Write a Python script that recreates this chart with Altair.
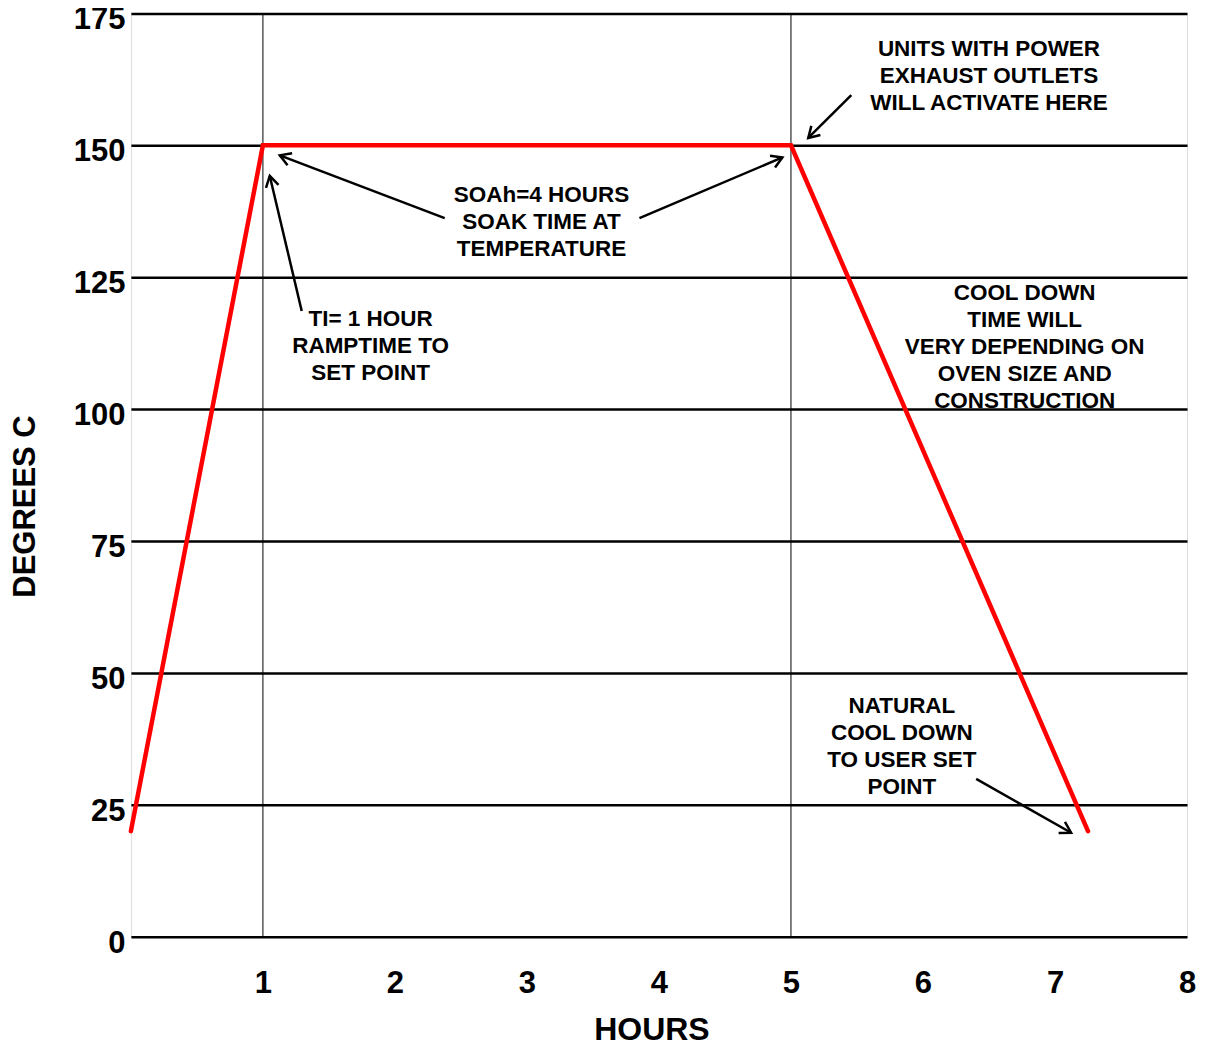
import math
import altair as alt
import pandas as pd

# ---- data ----
hours = [0, 1, 5, 7.25]
temps = [20, 150, 150, 20]

x_ticks = [1, 2, 3, 4, 5, 6, 7, 8]
y_ticks = [0, 25, 50, 75, 100, 125, 150, 175]
marker_hours = [1, 5]

note_texts = [
    "UNITS WITH POWER\nEXHAUST OUTLETS\nWILL ACTIVATE HERE",
    "SOAh=4 HOURS\nSOAK TIME AT\nTEMPERATURE",
    "TI= 1 HOUR\nRAMPTIME TO\nSET POINT",
    "COOL DOWN\nTIME WILL\nVERY DEPENDING ON\nOVEN SIZE AND\nCONSTRUCTION",
    "NATURAL\nCOOL DOWN\nTO USER SET\nPOINT",
]
# position of the first line of each note
note_x = [6.50, 3.11, 1.816, 6.77, 5.84]
note_y = [168.2, 140.6, 117.1, 122.0, 43.7]

arrow_tail_x = [1.294, 2.377, 3.852, 5.457, 6.403]
arrow_tail_y = [118.6, 136.2, 136.2, 159.5, 29.9]
arrow_tip_x = [1.052, 1.128, 4.935, 5.131, 7.122]
arrow_tip_y = [144.2, 148.1, 147.7, 151.4, 19.7]

W, H = 1057, 924
X_MAX, Y_MAX = 8, 175
FONT = "Liberation Sans"

profile = pd.DataFrame({"hours": hours, "temp": temps})
markers = pd.DataFrame({"hours": marker_hours})
notes = pd.DataFrame({"text": note_texts, "x": note_x, "y": note_y})

angles = []
for tx, ty, hx, hy in zip(arrow_tail_x, arrow_tail_y, arrow_tip_x, arrow_tip_y):
    dx = (hx - tx) * W / X_MAX
    dy = -(hy - ty) * H / Y_MAX
    angles.append(math.degrees(math.atan2(dy, dx)) % 360)
arrows = pd.DataFrame({
    "tx": arrow_tail_x, "ty": arrow_tail_y,
    "hx": arrow_tip_x, "hy": arrow_tip_y, "angle": angles,
})

xscale = alt.Scale(domain=[0, X_MAX], nice=False, zero=False)
yscale = alt.Scale(domain=[0, Y_MAX], nice=False)

x_axis = alt.Axis(
    values=x_ticks, format="d", grid=False, domain=False, ticks=False, tickSize=0,
    labelFont=FONT, labelFontSize=31, labelFontWeight="bold", labelColor="black",
    labelPadding=47, labelBaseline="middle", labelFlush=False, labelOverlap=False,
    title="HOURS", titleFont=FONT, titleFontSize=32, titleFontWeight="bold",
    titleColor="black", titleX=521, titleY=93, titleBaseline="middle",
)
y_axis = alt.Axis(
    values=y_ticks, format="d", grid=True, gridColor="black", gridWidth=2.5,
    gridOpacity=1, domain=False, ticks=False, tickSize=0,
    labelFont=FONT, labelFontSize=31, labelFontWeight="bold", labelColor="black",
    labelPadding=6, labelOffset=6.5, labelOverlap=False, labelFlush=False,
    title="DEGREES C", titleFont=FONT, titleFontSize=31, titleFontWeight="bold",
    titleColor="black", titleX=-105, titleY=493, titleBaseline="middle",
)

line = alt.Chart(profile).mark_line(
    color="#ff0000", strokeWidth=4.5, strokeCap="round", strokeJoin="miter"
).encode(
    x=alt.X("hours:Q", scale=xscale, axis=x_axis),
    y=alt.Y("temp:Q", scale=yscale, axis=y_axis),
)

vlines = alt.Chart(markers).mark_rule(color="black", strokeWidth=1).encode(
    x=alt.X("hours:Q", scale=xscale),
)

shafts = alt.Chart(arrows).mark_rule(color="black", strokeWidth=2.5).encode(
    x=alt.X("tx:Q", scale=xscale), y=alt.Y("ty:Q", scale=yscale),
    x2="hx:Q", y2="hy:Q",
)

heads = alt.Chart(arrows).mark_point(
    shape="M-1,-0.6L0,0L-1,0.6", filled=False, stroke="black",
    strokeWidth=2.5, size=460, opacity=1,
).encode(
    x=alt.X("hx:Q", scale=xscale), y=alt.Y("hy:Q", scale=yscale),
    angle=alt.Angle("angle:Q", scale=None),
)

texts = alt.Chart(notes).mark_text(
    font=FONT, fontSize=22.5, fontWeight="bold", color="black",
    align="center", baseline="middle", lineBreak="\n", lineHeight=27,
).encode(
    x=alt.X("x:Q", scale=xscale), y=alt.Y("y:Q", scale=yscale), text="text:N",
)

chart = alt.layer(vlines, line, shafts, heads, texts).properties(
    width=W, height=H,
    autosize=alt.AutoSizeParams(type="none"),
    padding={"left": 123, "top": 5, "right": 10, "bottom": 110},
).configure_view(stroke="black", strokeWidth=3).configure(background="white")

chart.save("out.html", embed_options={"renderer": "svg", "actions": False})
